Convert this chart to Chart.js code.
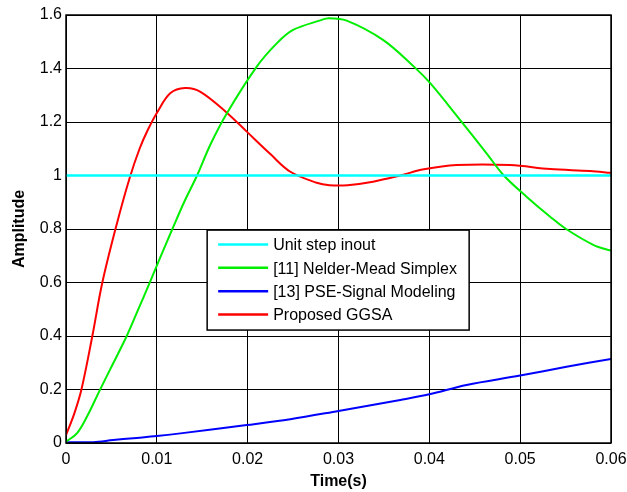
<!DOCTYPE html>
<html>
<head>
<meta charset="utf-8">
<script src="https://cdn.jsdelivr.net/npm/chart.js@4/dist/chart.umd.min.js"></script>
<style>
    html, body { margin: 0; padding: 0; background: #fff; }
    #wrap { width: 627px; height: 492px; }
</style>
</head>
<body>
<div id="wrap"><canvas id="grafik" width="627" height="492"></canvas></div>
<script>
// Step response data
const stepTime = [0, 0.06];
const stepAmp = [1, 1];

const nelderTime = [0, 0.0012, 0.0023, 0.0037, 0.0052, 0.0067, 0.0078, 0.0093, 0.0104, 0.0117, 0.013, 0.0144, 0.0159, 0.0177, 0.021, 0.0232, 0.025, 0.028, 0.0289, 0.0309, 0.0349, 0.0383, 0.0401, 0.0434, 0.0463, 0.0482, 0.0507, 0.0533, 0.0551, 0.0581, 0.06];
const nelderAmp = [0.005, 0.036, 0.098, 0.196, 0.298, 0.401, 0.487, 0.606, 0.696, 0.799, 0.9, 0.998, 1.116, 1.232, 1.407, 1.494, 1.544, 1.58, 1.588, 1.579, 1.507, 1.407, 1.345, 1.207, 1.083, 1.0, 0.921, 0.846, 0.799, 0.74, 0.719];

const pseTime = [0, 0.003, 0.0052, 0.0074, 0.01, 0.0126, 0.0199, 0.0247, 0.03, 0.0368, 0.04, 0.0441, 0.05, 0.0551, 0.06];
const pseAmp = [0.003, 0.003, 0.011, 0.018, 0.026, 0.036, 0.067, 0.089, 0.12, 0.161, 0.182, 0.217, 0.252, 0.285, 0.314];

const ggsaTime = [0, 0.0009, 0.0017, 0.0029, 0.004, 0.0056, 0.007, 0.0081, 0.009, 0.01, 0.0115, 0.0131, 0.0148, 0.0177, 0.0199, 0.0225, 0.0247, 0.0276, 0.029, 0.031, 0.0338, 0.0368, 0.0394, 0.043, 0.0489, 0.0533, 0.0577, 0.06];
const ggsaAmp = [0.029, 0.109, 0.2, 0.4, 0.6, 0.82, 0.99, 1.1, 1.17, 1.234, 1.308, 1.327, 1.313, 1.235, 1.164, 1.08, 1.014, 0.973, 0.964, 0.964, 0.977, 1.0, 1.023, 1.039, 1.039, 1.024, 1.017, 1.01];

const seriesLabels = ['Unit step inout', '[11] Nelder-Mead Simplex', '[13] PSE-Signal Modeling', 'Proposed GGSA'];
const seriesColors = ['#00ffff', '#00ee00', '#0000ff', '#ff0000'];

function noktalar(t, y) {
    return t.map((x, i) => ({ x: x, y: y[i] }));
}

const yaziTipi = '"Liberation Sans", Arial, sans-serif';

// Legend drawn inside the plot area, like MATLAB
const icLejant = {
    id: 'icLejant',
    afterDraw(chart) {
        const ctx = chart.ctx;
        const x = chart.scales.x.getPixelForValue(0.01554);
        const y = chart.scales.y.getPixelForValue(0.796);
        const w = 262, h = 100;
        ctx.save();
        ctx.fillStyle = '#fff';
        ctx.fillRect(x, y, w, h);
        ctx.strokeStyle = '#000';
        ctx.lineWidth = 1.5;
        ctx.strokeRect(x, y, w, h);
        ctx.font = '16px ' + yaziTipi;
        ctx.textBaseline = 'middle';
        ctx.fillStyle = '#000';
        seriesLabels.forEach((etiket, i) => {
            const sy = y + 14.5 + i * 23.3;
            ctx.strokeStyle = seriesColors[i];
            ctx.lineWidth = 2.5;
            ctx.beginPath();
            ctx.moveTo(x + 11, sy);
            ctx.lineTo(x + 61, sy);
            ctx.stroke();
            ctx.fillText(etiket, x + 66, sy + 1.5);
        });
        ctx.restore();
    }
};

// Black frame round the plot
const cerceve = {
    id: 'cerceve',
    afterDatasetsDraw(chart) {
        const a = chart.chartArea;
        const ctx = chart.ctx;
        ctx.save();
        ctx.strokeStyle = '#000';
        ctx.lineWidth = 1.5;
        ctx.strokeRect(a.left, a.top, a.right - a.left, a.bottom - a.top);
        ctx.restore();
    }
};

const veriSetleri = [
    noktalar(stepTime, stepAmp),
    noktalar(nelderTime, nelderAmp),
    noktalar(pseTime, pseAmp),
    noktalar(ggsaTime, ggsaAmp)
].map((d, i) => ({
    label: seriesLabels[i],
    data: d,
    borderColor: seriesColors[i],
    borderWidth: i === 0 ? 2.5 : 2,
    pointRadius: 0,
    tension: 0.35,
    fill: false
}));

new Chart(document.getElementById('grafik').getContext('2d'), {
    type: 'line',
    data: { datasets: veriSetleri },
    options: {
        responsive: false,
        animation: false,
        layout: { padding: { left: 0, top: 15, right: 0, bottom: 0 } },
        plugins: { legend: { display: false }, tooltip: { enabled: false } },
        scales: {
            x: {
                type: 'linear',
                min: 0,
                max: 0.06,
                afterFit: (s) => { s.height = 49; s.paddingRight = 16; s.paddingLeft = 0; },
                grid: { color: '#000', lineWidth: 1, drawTicks: false },
                border: { display: false },
                ticks: {
                    stepSize: 0.01,
                    padding: 7,
                    color: '#000',
                    font: { family: yaziTipi, size: 16 },
                    maxRotation: 0,
                    callback: (v) => v === 0 ? '0' : Number(v).toFixed(2)
                },
                title: {
                    display: true,
                    text: 'Time(s)',
                    color: '#000',
                    font: { family: yaziTipi, size: 16, weight: 'bold' },
                    padding: { top: 1, bottom: 1 }
                }
            },
            y: {
                min: 0,
                max: 1.6,
                afterFit: (s) => { s.width = 66; },
                grid: { color: '#000', lineWidth: 1, drawTicks: false },
                border: { display: false },
                ticks: {
                    stepSize: 0.2,
                    padding: 4,
                    color: '#000',
                    font: { family: yaziTipi, size: 16 },
                    callback: (v) => String(Number(Number(v).toFixed(1)))
                },
                title: {
                    display: true,
                    text: 'Amplitude',
                    color: '#000',
                    font: { family: yaziTipi, size: 16, weight: 'bold' },
                    padding: { top: 10, bottom: 4 }
                }
            }
        }
    },
    plugins: [cerceve, icLejant]
});
</script>
</body>
</html>
